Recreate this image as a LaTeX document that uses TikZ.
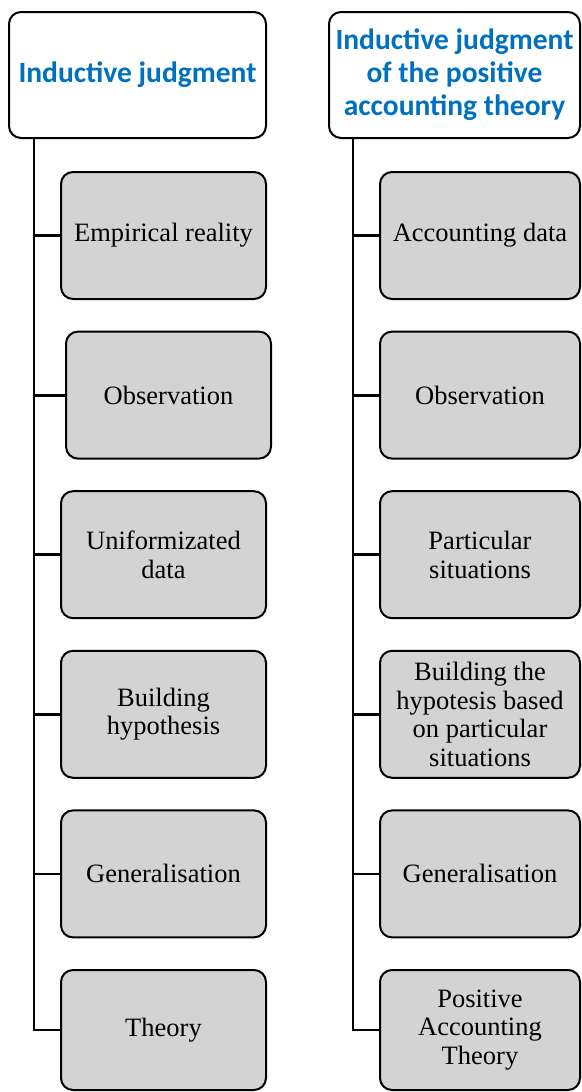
\documentclass[tikz,border=0pt]{standalone}
\usepackage{fontspec}
\setmainfont{Liberation Serif}
\newfontfamily\headfont{Carlito}
\definecolor{headblue}{HTML}{0070C0}
\definecolor{boxgray}{HTML}{D3D3D3}

\begin{document}
\begin{tikzpicture}[x=1pt, y=-1pt, node distance=159.6pt,
  head/.style={draw, line width=2pt, rounded corners=12pt, fill=white, minimum height=126pt, align=center, text=headblue, font=\headfont\bfseries\fontsize{29.5}{33}\selectfont},
  block/.style={draw, line width=2pt, rounded corners=12pt, fill=boxgray, minimum width=205pt, minimum height=127pt, align=center, font=\fontsize{26.5}{28.5}\selectfont},
  link/.style={line width=2.8pt}]

  \useasboundingbox (0,0) rectangle (581,1092);

  % Headers
  \node[head, minimum width=257pt] (LH) at (137.5,75) {Inductive judgment};
  \node[head, minimum width=251pt] (RH) at (454.5,75) {Inductive judgment\\of the positive\\accounting theory};

  % Left column
  \node[block] (L1) at (163.5,235.5) {Empirical reality};
  \node[block, below of=L1, xshift=5pt] (L2) {Observation};
  \node[block, below of=L2, xshift=-5pt] (L3) {Uniformizated\\data};
  \node[block, below of=L3] (L4) {Building\\hypothesis};
  \node[block, below of=L4] (L5) {Generalisation};
  \node[block, below of=L5, yshift=3.5pt, minimum height=120pt] (L6) {Theory};

  % Right column
  \node[block, minimum width=200pt] (R1) at (480,235.5) {Accounting data};
  \node[block, minimum width=200pt, below of=R1] (R2) {Observation};
  \node[block, minimum width=200pt, below of=R2] (R3) {Particular\\situations};
  \node[block, minimum width=200pt, below of=R3] (R4) {Building the\\hypotesis based\\on particular\\situations};
  \node[block, minimum width=200pt, below of=R4] (R5) {Generalisation};
  \node[block, minimum width=200pt, below of=R5, yshift=3.5pt, minimum height=120pt] (R6) {Positive\\Accounting\\Theory};

  % Trunks
  \coordinate[xshift=26pt] (LT) at (LH.south west);
  \coordinate[xshift=25pt] (RT) at (RH.south west);
  \draw[link] (LT) |- (L6.west);
  \draw[link] (RT) |- (R6.west);

  % Branches
  \foreach \i in {1,...,5} {
    \draw[link] (LT |- L\i.west) -- (L\i.west);
    \draw[link] (RT |- R\i.west) -- (R\i.west);
  }

\end{tikzpicture}
\end{document}
